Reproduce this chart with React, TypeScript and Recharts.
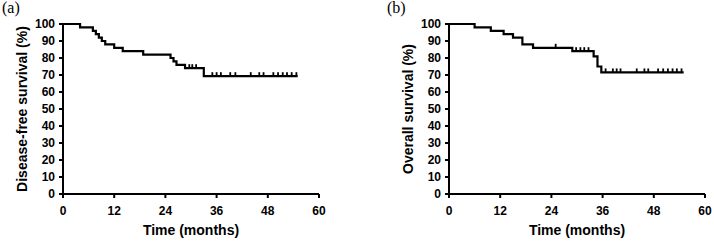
import { ComposedChart, Line, Scatter, XAxis, YAxis, Label } from 'recharts';

// Kaplan-Meier step points (months, survival %)
const DFS_TIMES = [0, 4, 7, 7.7, 8.4, 9.1, 9.9, 12, 14, 18.8, 25.2, 25.9, 26.6, 28.6, 33, 55];
const DFS_VALUES = [100, 98, 96, 94, 92, 90, 88, 86, 84, 82, 80, 78, 76, 74, 69.3, 69.3];
const DFS_CENSORED = [29.6, 30.3, 31.2, 35, 36, 37, 39.2, 40.4, 44, 46, 47, 49.3, 50.4, 51.5, 52.5, 53.6, 54.7];

const OS_TIMES = [0, 6, 9.8, 12.8, 15, 17.2, 19.7, 28.9, 33.9, 34.8, 35.7, 55];
const OS_VALUES = [100, 98, 96, 94, 92, 88, 86, 84, 81, 75, 71.5, 71.5];
const OS_CENSORED = [25, 29.8, 30.8, 31.7, 32.7, 36.7, 38.4, 39.3, 40.2, 44, 45.8, 46.7, 49, 50.2, 51.3, 52.4, 53.4, 54.5];

const X_TICKS = [0, 12, 24, 36, 48, 60];
const Y_TICKS = [0, 10, 20, 30, 40, 50, 60, 70, 80, 90, 100];

const FONT = '"Liberation Sans", Arial, sans-serif';

function survivalAt(times: number[], values: number[], t: number) {
    let s = values[0];
    for (let i = 0; i < times.length; i++) {
        if (times[i] <= t) s = values[i];
    }
    return s;
}

const CensorMark = (props: any) => {
    const { cx, cy } = props;
    return <line x1={cx} x2={cx} y1={cy} y2={cy - 4} stroke="#000" strokeWidth={1.8} />;
};

interface PanelProps {
    tag: string;
    tagX: number;
    yLabel: string;
    times: number[];
    values: number[];
    censored: number[];
    left: number;
    marginLeft: number;
    marginRight: number;
}

function KMPanel({ tag, tagX, yLabel, times, values, censored, left, marginLeft, marginRight }: PanelProps) {
    const steps = times.map((t, i) => ({ t, s: values[i] }));
    const marks = censored.map((t) => ({ t, s: survivalAt(times, values, t) }));
    const tick = { fontSize: 12, fontWeight: 700, fill: '#000', fontFamily: FONT };

    return (
        <div style={{ position: 'absolute', left, top: 0, width: 357, height: 242 }}>
            <div
                style={{
                    position: 'absolute',
                    left: tagX,
                    top: -1,
                    fontFamily: '"Liberation Serif", "Times New Roman", serif',
                    fontSize: 16,
                    color: '#000',
                    zIndex: 1,
                }}
            >
                {tag}
            </div>
            <ComposedChart width={357} height={242} margin={{ top: 24, right: marginRight, bottom: 0, left: marginLeft }}>
                <XAxis
                    dataKey="t"
                    type="number"
                    domain={[0, 60]}
                    ticks={X_TICKS}
                    allowDataOverflow
                    height={48}
                    stroke="#000"
                    strokeWidth={2}
                    tickSize={4}
                    tickMargin={8}
                    tick={tick}
                >
                    <Label
                        content={({ viewBox }: any) => (
                            <text
                                x={viewBox.x + viewBox.width / 2}
                                y={viewBox.y + 36}
                                textAnchor="middle"
                                dominantBaseline="central"
                                fontFamily={FONT}
                                fontWeight={700}
                                fontSize={14}
                                fill="#000"
                            >
                                Time (months)
                            </text>
                        )}
                    />
                </XAxis>
                <YAxis
                    dataKey="s"
                    type="number"
                    domain={[0, 100]}
                    ticks={Y_TICKS}
                    interval={0}
                    width={63}
                    stroke="#000"
                    strokeWidth={2}
                    tickSize={4}
                    tickMargin={4}
                    tick={tick}
                >
                    <Label
                        content={({ viewBox }: any) => {
                            const x = viewBox.x + 22;
                            const y = viewBox.y + viewBox.height / 2;
                            return (
                                <text
                                    x={x}
                                    y={y}
                                    transform={`rotate(-90, ${x}, ${y})`}
                                    textAnchor="middle"
                                    dominantBaseline="central"
                                    fontFamily={FONT}
                                    fontWeight={700}
                                    fontSize={14}
                                    fill="#000"
                                >
                                    {yLabel}
                                </text>
                            );
                        }}
                    />
                </YAxis>
                <Line
                    data={steps}
                    dataKey="s"
                    type="stepAfter"
                    stroke="#000"
                    strokeWidth={2.2}
                    dot={false}
                    activeDot={false}
                    isAnimationActive={false}
                />
                <Scatter data={marks} dataKey="s" shape={CensorMark} isAnimationActive={false} />
            </ComposedChart>
        </div>
    );
}

export default function App() {
    return (
        <div style={{ position: 'absolute', left: 0, top: 0, width: 714, height: 242, background: '#fff' }}>
            <KMPanel
                tag="(a)"
                tagX={2}
                yLabel="Disease-free survival (%)"
                times={DFS_TIMES}
                values={DFS_VALUES}
                censored={DFS_CENSORED}
                left={0}
                marginLeft={0}
                marginRight={38}
            />
            <KMPanel
                tag="(b)"
                tagX={30}
                yLabel="Overall survival (%)"
                times={OS_TIMES}
                values={OS_VALUES}
                censored={OS_CENSORED}
                left={357}
                marginLeft={29}
                marginRight={9}
            />
        </div>
    );
}
